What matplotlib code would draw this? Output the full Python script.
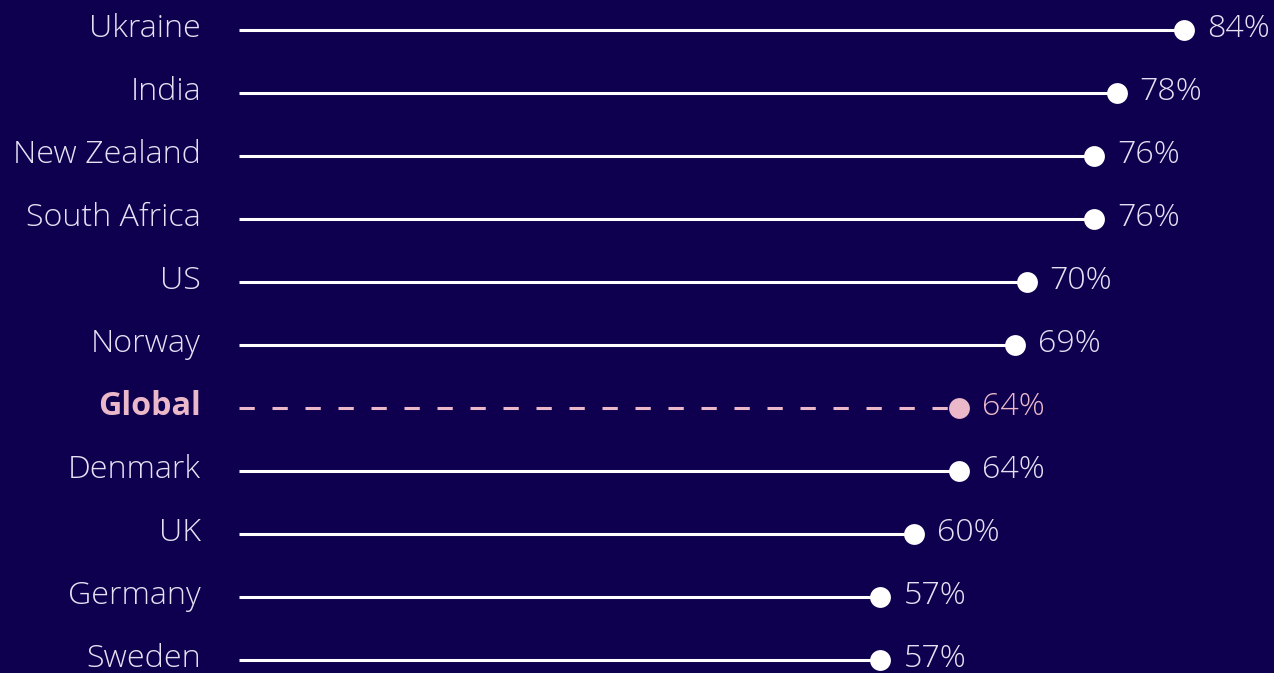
import matplotlib.pyplot as plt

BG = "#0e004f"
FG = "#e4e2f2"
PINK = "#ebb8c9"

COUNTRIES = ["Ukraine", "India", "New Zealand", "South Africa", "US", "Norway",
             "Global", "Denmark", "UK", "Germany", "Sweden"]
VALUES = [84, 78, 76, 76, 70, 69, 64, 64, 60, 57, 57]
HIGHLIGHT = "Global"

plt.rcParams["font.family"] = ["Open Sans", "DejaVu Sans"]

W, H = 1274, 673
fig = plt.figure(figsize=(W / 100, H / 100), dpi=100, facecolor=BG)
ax = fig.add_axes([0, 0, 1, 1])
ax.set_facecolor(BG)

# horizontal scale: 11.25 px per percentage point, zero at x=239 px
ppu = 11.25
x0 = 239
ax.set_xlim(-x0 / ppu, (W - x0) / ppu)
# rows every 63 px, first row at y=30 px
top, step = 30, 63
ax.set_ylim((H - top) / step, -top / step)

for i, (name, val) in enumerate(zip(COUNTRIES, VALUES)):
    hl = name == HIGHLIGHT
    col = PINK if hl else "white"
    txt = PINK if hl else FG
    ax.plot([0, val], [i, i], color=col, lw=2.2,
            ls=(0, (5, 5.8)) if hl else "-", solid_capstyle="butt",
            dash_capstyle="butt", zorder=2)
    ax.plot(val, i, "o", ms=15, color=col, mec="none", zorder=3)
    ax.annotate(name, (0, i), xytext=(-38, -7), textcoords="offset pixels",
                ha="right", va="baseline", fontsize=23.2, color=txt,
                fontweight="bold" if hl else "light")
    ax.annotate(f"{val}%", (val, i), xytext=(23, -7), textcoords="offset pixels",
                ha="left", va="baseline", fontsize=23.2, color=txt,
                fontweight="light")

ax.axis("off")
fig.savefig("out.png", dpi=100, facecolor=BG)
